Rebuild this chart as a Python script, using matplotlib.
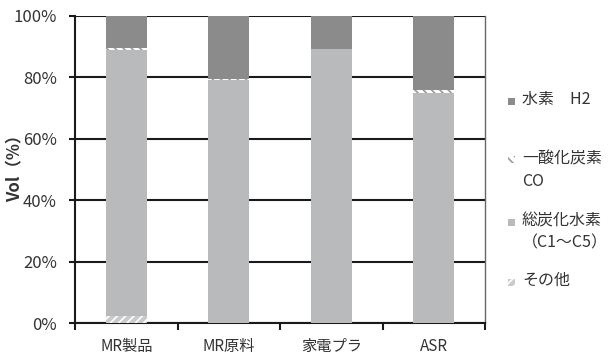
import matplotlib
matplotlib.use("Agg")
import matplotlib.pyplot as plt
from matplotlib.patches import Rectangle
from matplotlib.ticker import FixedLocator, PercentFormatter

plt.rcParams['font.family'] = ['Noto Sans CJK JP', 'DejaVu Sans']
plt.rcParams['hatch.linewidth'] = 1.2

categories = ['MR製品', 'MR原料', '家電プラ', 'ASR']
other = [2.2, 0.0, 0.0, 0.0]
hydrocarbons = [86.8, 79.0, 89.3, 75.0]
carbon_monoxide = [0.5, 0.5, 0.0, 1.0]
hydrogen = [10.5, 20.5, 10.7, 24.0]

series_labels = ['水素　H2', '一酸化炭素\nCO', '総炭化水素\n（C1～C5）', 'その他']

W, H = 611, 360
fig = plt.figure(figsize=(W / 100, H / 100), dpi=100)
ax = fig.add_axes([75 / W, 1 - 323 / H, 410 / W, 307 / H])

x = list(range(len(categories)))
w = 0.4

c_h2 = '#8b8b8b'
c_hc = '#b9babb'
c_co = '#9a9a9a'
c_other = '#cacaca'
txt = '#333333'

styles = [
    dict(facecolor=c_h2, linewidth=0),
    dict(facecolor='white', edgecolor=c_co, hatch='\\\\\\\\', linewidth=0),
    dict(facecolor=c_hc, linewidth=0),
    dict(facecolor=c_other, edgecolor='white', hatch='////', linewidth=0),
]

b0 = [0.0] * 4
ax.bar(x, other, w, bottom=b0, zorder=3, **styles[3])
b1 = [a + b for a, b in zip(b0, other)]
ax.bar(x, hydrocarbons, w, bottom=b1, zorder=3, **styles[2])
b2 = [a + b for a, b in zip(b1, hydrocarbons)]
ax.bar(x, carbon_monoxide, w, bottom=b2, zorder=3, **styles[1])
b3 = [a + b for a, b in zip(b2, carbon_monoxide)]
ax.bar(x, hydrogen, w, bottom=b3, zorder=3, **styles[0])

ax.set_ylim(0, 100)
ax.set_xlim(-0.5, 3.5)
ax.yaxis.set_major_locator(FixedLocator([0, 20, 40, 60, 80, 100]))
ax.yaxis.set_major_formatter(PercentFormatter(decimals=0))
ax.grid(axis='y', color='#1a1a1a', linewidth=1.5, zorder=1)
ax.set_axisbelow(True)

ax.xaxis.set_major_locator(FixedLocator([-0.5, 0.5, 1.5, 2.5, 3.5]))
ax.xaxis.set_minor_locator(FixedLocator(x))
ax.set_xticklabels([], minor=False)
ax.set_xticklabels(categories, minor=True)
ax.tick_params(axis='x', which='major', direction='out', length=5, width=1.5,
               color='#1a1a1a')
ax.tick_params(axis='x', which='minor', length=0, pad=11, labelsize=11,
               labelcolor=txt)
ax.tick_params(axis='y', direction='out', length=4, width=1.5, color='#1a1a1a',
               labelsize=12, labelcolor=txt, pad=9)

ax.spines['top'].set_visible(False)
for side in ['left', 'bottom']:
    ax.spines[side].set_linewidth(1.5)
    ax.spines[side].set_color('#1a1a1a')
ax.spines['right'].set_linewidth(1.0)
ax.spines['right'].set_color('#666666')

fig.text(15 / W, 1 - 164 / H, 'Vol（%）', rotation=90, ha='center', va='center',
         fontsize=12, fontweight='bold', color=txt)

# legend drawn entry by entry (top row of each label aligned with its swatch)
rows_y = [101, 160, 222, 282]
for y_px, label, st in zip(rows_y, series_labels, styles):
    fig.patches.append(Rectangle((508 / W, 1 - (y_px + 3.5) / H), 7 / W, 7 / H,
                                 transform=fig.transFigure, **st))
    fig.text(522 / W, 1 - (y_px - 10) / H, label, ha='left', va='top',
             fontsize=11.5, color=txt, linespacing=1.45)

fig.savefig('out.png', dpi=100)
